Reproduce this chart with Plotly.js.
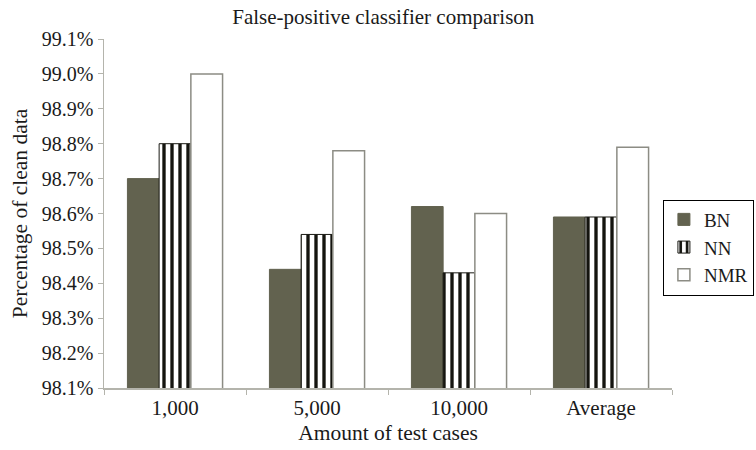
<!DOCTYPE html>
<html>
<head>
<meta charset="utf-8">
<script src="https://cdn.plot.ly/plotly-3.0.1.min.js"></script>
<style>html,body{margin:0;padding:0;background:#fff}#chart{width:756px;height:450px}</style>
</head>
<body>
<div id="chart"></div>
<script>
const categories = ["1,000", "5,000", "10,000", "Average"];
const bnValues = [98.70, 98.44, 98.62, 98.59];
const nnValues = [98.80, 98.54, 98.43, 98.59];
const nmrValues = [99.00, 98.78, 98.60, 98.79];
const yTickVals = [98.1, 98.2, 98.3, 98.4, 98.5, 98.6, 98.7, 98.8, 98.9, 99.0, 99.1];
const yTickText = ["98.1%", "98.2%", "98.3%", "98.4%", "98.5%", "98.6%", "98.7%", "98.8%", "98.9%", "99.0%", "99.1%"];

const font = "Liberation Serif";
const traces = [
  {type: "bar", name: "BN", x: categories, y: bnValues,
   marker: {color: "#62624f", line: {color: "#62624f", width: 1}}},
  {type: "bar", name: "NN", x: categories, y: nnValues,
   marker: {color: "#ffffff", line: {color: "#1a1a14", width: 1},
            pattern: {shape: "|", fgcolor: "#14140f", bgcolor: "#ffffff", size: 8, solidity: 0.42}}},
  {type: "bar", name: "NMR", x: categories, y: nmrValues,
   marker: {color: "#ffffff", line: {color: "#8c8c84", width: 1.5}}}
];

const layout = {
  width: 756, height: 450,
  margin: {l: 104, r: 84, t: 39, b: 62, autoexpand: false},
  paper_bgcolor: "#fff", plot_bgcolor: "#fff",
  font: {family: font, size: 21, color: "#1a1a1a"},
  title: {text: "False-positive classifier comparison", font: {family: font, size: 21, color: "#1a1a1a"},
          x: 0.507, xanchor: "center", y: 0.962, yanchor: "middle"},
  barmode: "group", bargap: 0.33, bargroupgap: 0,
  xaxis: {
    type: "category", showline: true, linecolor: "#b4b4ac", linewidth: 1.5,
    ticks: "outside", tickson: "boundaries", ticklen: 5, tickcolor: "#b4b4ac",
    showgrid: false, tickfont: {family: font, size: 21},
    title: {text: "Amount of test cases", font: {family: font, size: 21.5}, standoff: 6},
    automargin: false
  },
  yaxis: {
    range: [98.1, 99.1], tickvals: yTickVals, ticktext: yTickText,
    showline: true, linecolor: "#b4b4ac", linewidth: 1.5,
    ticks: "outside", ticklen: 5, tickcolor: "#b4b4ac",
    showgrid: false, zeroline: false, tickfont: {family: font, size: 20},
    title: {text: "Percentage of clean data", font: {family: font, size: 21.5}, standoff: 8},
    automargin: false
  },
  legend: {x: 0.984, y: 0.54, xanchor: "left", yanchor: "top",
           bordercolor: "#000", borderwidth: 1, bgcolor: "#fff",
           font: {family: font, size: 19}, tracegroupgap: 0, itemwidth: 30},
  showlegend: true
};

Plotly.newPlot("chart", traces, layout, {displayModeBar: false, staticPlot: true});
</script>
</body>
</html>
